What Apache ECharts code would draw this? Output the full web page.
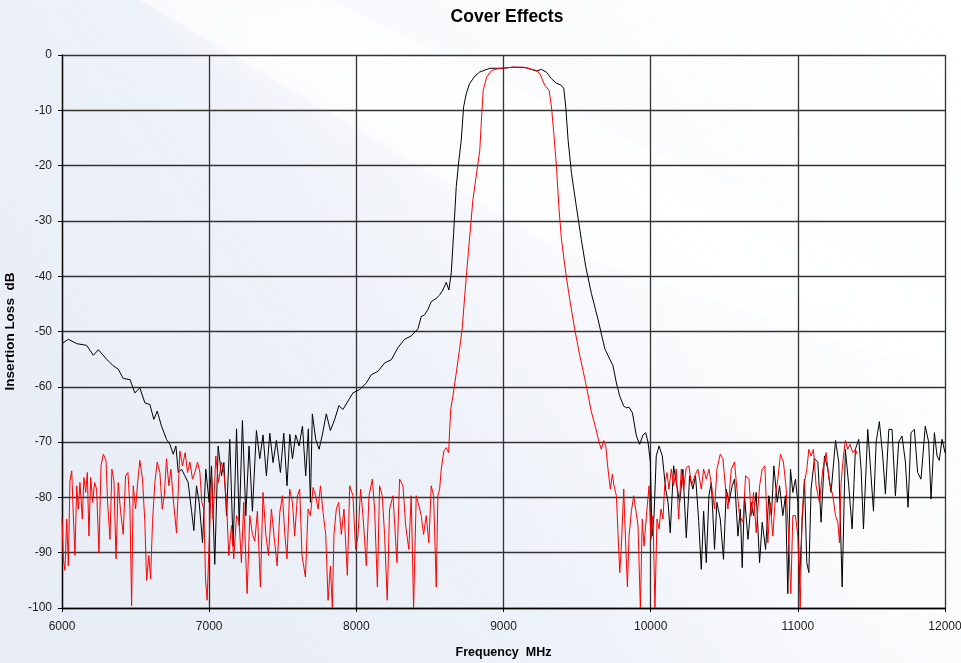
<!DOCTYPE html>
<html><head><meta charset="utf-8">
<script src="https://cdn.jsdelivr.net/npm/echarts@6/dist/echarts.min.js"></script>
<style>html,body{margin:0;padding:0;background:#fff}#c{width:961px;height:663px}</style>
</head><body><div id="c"></div>
<script>
const titleText = "Cover Effects";
const xName = "Frequency  MHz";
const yName = "Insertion Loss  dB";
const xTicks = [6000, 7000, 8000, 9000, 10000, 11000, 12000];
const yTicks = [-100, -90, -80, -70, -60, -50, -40, -30, -20, -10, 0];

const blackFreq = [6000,6043,6100,6167,6213,6247,6303,6348,6382,6416,6462,6495,6529,6563,6597,6624,6647,6676,6710,6733,6756,6774,6790,6812,6835,6857,6880,6896,6914,6932,6955,6977,7000,7016,7038,7061,7084,7100,7118,7140,7163,7186,7204,7226,7249,7271,7294,7321,7344,7366,7389,7412,7434,7457,7484,7507,7529,7548,7566,7588,7611,7634,7656,7674,7688,7701,7724,7747,7769,7796,7824,7853,7882,7909,7943,7977,8023,8068,8102,8147,8192,8238,8283,8328,8373,8419,8441,8464,8487,8509,8543,8566,8588,8611,8629,8645,8661,8679,8697,8713,8729,8747,8769,8803,8837,8907,9000,9066,9156,9224,9258,9292,9326,9360,9394,9410,9423,9439,9462,9495,9529,9559,9597,9643,9688,9722,9744,9767,9790,9817,9835,9853,9876,9903,9925,9948,9966,9982,9998,10009,10023,10038,10057,10079,10102,10118,10133,10156,10174,10197,10219,10242,10265,10287,10305,10326,10344,10360,10378,10396,10412,10434,10450,10473,10495,10514,10532,10554,10570,10593,10609,10622,10638,10661,10683,10699,10717,10740,10758,10781,10803,10821,10837,10860,10876,10898,10916,10932,10950,10966,10984,11000,11011,11029,11045,11061,11075,11090,11113,11136,11158,11181,11204,11226,11256,11278,11301,11323,11346,11369,11391,11414,11430,11446,11475,11491,11514,11532,11554,11577,11595,11618,11640,11663,11685,11708,11731,11749,11769,11792,11814,11837,11866,11889,11905,11928,11946,11961,11980,12000];
const blackLoss = [-52.2,-51.4,-52.2,-52.5,-54.3,-53.3,-55,-56.2,-56.8,-58.5,-58.7,-61.1,-60.2,-62.9,-63.2,-65.9,-64.4,-67.1,-69.5,-70.4,-72.2,-70.7,-75.5,-74.9,-76.1,-77.3,-82.4,-86,-77.9,-80.9,-88.2,-74.9,-80.9,-74.3,-92.1,-70.7,-76.1,-73.7,-83.3,-69.5,-88.8,-67.6,-85.1,-66.1,-83.3,-70.7,-82.5,-67.9,-73,-68.7,-76.1,-68.4,-73.7,-69.7,-75.5,-68.4,-77.9,-68.6,-73,-68.7,-70.7,-67.1,-76.1,-67.6,-80.9,-64.9,-69.5,-71.3,-68.7,-64.9,-67.9,-65.9,-63.4,-64.1,-62.6,-61.1,-60.5,-59.3,-57.8,-57.2,-55.7,-55.1,-52.9,-51.4,-50.8,-49.5,-47.3,-47,-46,-44.6,-44,-43.4,-42.5,-41.1,-42.5,-39.4,-32.3,-23.8,-19,-15.4,-9.4,-7,-5.2,-3.9,-3.1,-2.4,-2.4,-2.2,-2.3,-2.9,-2.6,-3.1,-4.3,-5.1,-5.5,-6.1,-9.4,-15.4,-21.4,-27.4,-33.4,-38.3,-43.1,-47.9,-53.1,-55,-56.2,-59.3,-61.7,-63.5,-63.8,-63.7,-64.7,-68.9,-70.4,-68.7,-68.3,-70,-73.6,-87,-83.3,-72.5,-70.7,-72.5,-78.5,-80.9,-86.4,-74.3,-77.3,-80.9,-74.9,-87.3,-76.1,-78.5,-76.1,-84.2,-93,-82.5,-91.8,-79.7,-77.3,-89.4,-80.9,-83.9,-91.2,-78.5,-80.9,-77.9,-76.7,-87,-82.1,-92.7,-79.7,-87.6,-80.9,-83.3,-79.1,-91.8,-84.5,-89.4,-79.7,-83.3,-74.3,-80.9,-77.9,-83.3,-79.7,-97.4,-74.9,-79.1,-76.7,-80.9,-95.6,-84.5,-76.7,-91.8,-93.6,-78.5,-73,-73.6,-84.5,-72.5,-74.9,-79.1,-69.7,-73.6,-96.2,-71.3,-77.9,-85.7,-71.3,-69.5,-74.9,-85.7,-67.7,-73.6,-82.5,-70,-66.3,-72.5,-79.4,-67.7,-67.7,-79.7,-70,-68.9,-73.6,-81.8,-68.3,-67.7,-75.5,-76.7,-67.1,-70,-80.3,-68.3,-72.5,-73.3,-69.5,-71.9];

const redFreq = [6000,6009,6020,6032,6043,6054,6066,6077,6088,6100,6111,6122,6138,6149,6161,6172,6183,6195,6208,6222,6235,6251,6265,6281,6299,6310,6326,6339,6353,6367,6382,6398,6416,6432,6448,6462,6473,6484,6500,6514,6529,6547,6563,6575,6590,6602,6615,6631,6647,6665,6681,6695,6710,6726,6740,6756,6778,6801,6819,6837,6853,6869,6887,6903,6921,6937,6950,6964,6975,6986,7000,7016,7027,7045,7063,7084,7100,7118,7133,7152,7167,7186,7204,7219,7235,7258,7276,7294,7310,7328,7348,7366,7385,7403,7423,7441,7462,7480,7498,7514,7529,7547,7566,7581,7600,7615,7631,7654,7672,7688,7706,7724,7740,7756,7774,7792,7808,7824,7837,7848,7864,7880,7898,7916,7939,7955,7977,7995,8011,8029,8045,8068,8086,8109,8124,8143,8158,8176,8192,8210,8226,8249,8276,8294,8317,8335,8357,8373,8389,8407,8425,8441,8457,8475,8493,8509,8525,8543,8554,8566,8577,8595,8611,8627,8641,8656,8679,8701,8719,8747,8792,8839,8851,8862,8885,8919,8975,9066,9133,9179,9224,9247,9281,9310,9326,9342,9360,9376,9394,9423,9450,9484,9518,9552,9575,9597,9627,9649,9665,9681,9695,9710,9726,9740,9751,9767,9778,9790,9801,9817,9828,9842,9853,9869,9885,9898,9914,9930,9943,9955,9971,9989,10002,10016,10029,10043,10057,10070,10084,10095,10111,10124,10140,10156,10174,10190,10208,10224,10242,10260,10278,10299,10321,10344,10360,10378,10396,10414,10434,10450,10473,10491,10509,10525,10548,10570,10586,10604,10627,10645,10668,10683,10699,10717,10740,10758,10776,10796,10812,10830,10848,10864,10882,10902,10921,10939,10952,10966,10984,11000,11016,11029,11045,11061,11075,11090,11106,11124,11147,11170,11192,11215,11238,11256,11272,11283,11294,11310,11323,11339,11355,11373,11391,11403];
const redLoss = [-83.6,-91.1,-93.2,-83.9,-92.4,-77,-75.2,-83.3,-90.5,-77.9,-82.1,-77.3,-83.9,-76.4,-79.1,-75.5,-87,-76.4,-80.9,-77.3,-78.5,-90,-74.3,-72.2,-73.3,-80.9,-87.6,-74.9,-77,-91.1,-77.3,-82.5,-86.7,-76.1,-75.5,-82.1,-99.6,-77.9,-82.1,-77.3,-73.3,-76.7,-84.5,-95,-90.5,-94.7,-84.5,-77.3,-73.6,-75.5,-82.1,-79.7,-73,-77.9,-74.9,-80.3,-86.4,-71.6,-74.3,-71.9,-75.5,-73.6,-76.7,-75.5,-73.6,-75.5,-80.9,-82.1,-94.7,-98.6,-88.2,-76.1,-83.9,-72.5,-77.3,-73.6,-75.5,-80.9,-90.5,-85.1,-91.1,-83.3,-84.5,-91.8,-80.9,-97.4,-83.3,-86.7,-87.9,-82.5,-96.2,-79.1,-86.7,-90.5,-82.1,-87,-92.4,-82.7,-79.7,-86.7,-91.1,-78.5,-80.9,-87,-79.7,-78.5,-90.5,-94.4,-82.1,-83.3,-78.2,-79.7,-82.1,-77.9,-82.7,-86.7,-98.6,-92.4,-100,-86.7,-82.1,-80.9,-86.7,-82.1,-94.1,-77.9,-79.7,-89.4,-87,-78.5,-83.3,-92.4,-79.7,-76.7,-82.1,-96.2,-77.9,-79.7,-86.7,-98.6,-82.1,-79.7,-91.8,-76.7,-77.9,-85.1,-89.4,-79.7,-100,-79.7,-81.5,-83.3,-86.7,-83.3,-88.2,-77.9,-79.7,-96.2,-79.7,-78.5,-74.9,-71.6,-71,-71.9,-64.1,-61.7,-57.5,-53.3,-49.5,-40.1,-26.2,-17.2,-11.2,-6.4,-4,-2.8,-2.4,-2.2,-2.2,-2.5,-2.8,-3.4,-5.5,-6.4,-9.4,-14.2,-20.2,-27.4,-33.4,-39.4,-44.2,-49.6,-54.3,-58.5,-61.5,-64.5,-67.5,-70,-71.3,-69.7,-70.7,-74.9,-78.5,-75.8,-77.9,-79.7,-86.4,-93.6,-88.8,-78.5,-87,-96.2,-87,-82.5,-79.7,-79.7,-85.1,-100,-83.9,-88.8,-83.3,-77.9,-87.6,-83.3,-100,-83.9,-85.7,-82.1,-83.9,-77.9,-75.5,-78.5,-74.9,-77.9,-74.9,-83.9,-74.9,-78.5,-74.6,-74.3,-77.9,-76.1,-74.9,-78.5,-74.9,-76.7,-74.9,-77.9,-82.1,-74.9,-72.2,-73,-78.5,-82.1,-74.9,-73.6,-78.5,-83.3,-84.5,-76.1,-76.7,-83.3,-79.1,-86.4,-77.9,-74.9,-74.3,-88.2,-80.9,-87,-79.7,-76.7,-72.2,-73.6,-78.5,-88.2,-97.4,-83.3,-83.3,-87,-100,-83.3,-77.3,-74.9,-71.3,-72.5,-71.3,-77.9,-80.9,-74.9,-71.9,-77.3,-79.7,-83.3,-84.5,-88.2,-77.3,-72.5,-69.7,-71.3,-70.4,-71.9,-71.3,-72.2];

const blackData = blackFreq.map((f, i) => [f, blackLoss[i]]);
const redData = redFreq.map((f, i) => [f, redLoss[i]]);

const chart = echarts.init(document.getElementById('c'), null, {renderer: 'canvas'});
const font = '"Liberation Sans", Arial, sans-serif';
chart.setOption({
  animation: false,
  backgroundColor: {
    type: 'linear', x: 1, y: 0, x2: 0, y2: 1,
    colorStops: [
      {offset: 0, color: '#ffffff'},
      {offset: 0.35, color: '#fafbfd'},
      {offset: 0.6, color: '#edf1f8'},
      {offset: 1, color: '#e7ecf5'}
    ]
  },
  graphic: [{
    type: 'polygon', silent: true, z: -10,
    shape: {points: [[140, 0], [330, 0], [961, 300], [961, 380], [560, 250]]},
    style: {fill: 'rgba(255,255,255,0.55)', shadowBlur: 40, shadowColor: '#ffffff'}
  }],
  title: {
    text: titleText, left: 502, top: 3, textAlign: 'center',
    textStyle: {fontFamily: font, fontSize: 17.5, fontWeight: 'bold', color: '#000'}
  },
  grid: {left: 62, right: 16, top: 55, bottom: 55, containLabel: false, outerBoundsMode: 'none'},
  xAxis: {
    type: 'value', min: xTicks[0], max: xTicks[xTicks.length - 1], interval: 1000,
    name: xName, nameLocation: 'middle', nameGap: 38,
    nameTextStyle: {fontFamily: font, fontSize: 12.5, fontWeight: 'bold', color: '#000'},
    axisLine: {onZero: false, lineStyle: {color: '#000', width: 1.3}},
    axisTick: {show: true, length: 4, lineStyle: {color: '#000'}},
    axisLabel: {fontFamily: font, fontSize: 12, color: '#222', margin: 13, formatter: v => String(v)},
    splitLine: {show: true, lineStyle: {color: '#333', width: 1.3}}
  },
  yAxis: {
    type: 'value', min: yTicks[0], max: yTicks[yTicks.length - 1], interval: 10,
    name: yName, nameLocation: 'middle', nameGap: 44,
    nameTextStyle: {fontFamily: font, fontSize: 13.5, fontWeight: 'bold', color: '#000'},
    axisLine: {show: true, onZero: false, lineStyle: {color: '#000', width: 1.3}},
    axisTick: {show: true, length: 4, lineStyle: {color: '#000'}},
    axisLabel: {fontFamily: font, fontSize: 12, color: '#222', margin: 10, formatter: v => String(v)},
    splitLine: {show: true, lineStyle: {color: '#333', width: 1.3}}
  },
  series: [
    {type: 'line', name: 'Black', data: blackData, showSymbol: false, symbol: 'none',
     lineStyle: {color: '#000', width: 1}, z: 3, clip: true},
    {type: 'line', name: 'Red', data: redData, showSymbol: false, symbol: 'none',
     lineStyle: {color: '#ff0000', width: 1}, z: 4, clip: true}
  ]
});
</script>
</body></html>
